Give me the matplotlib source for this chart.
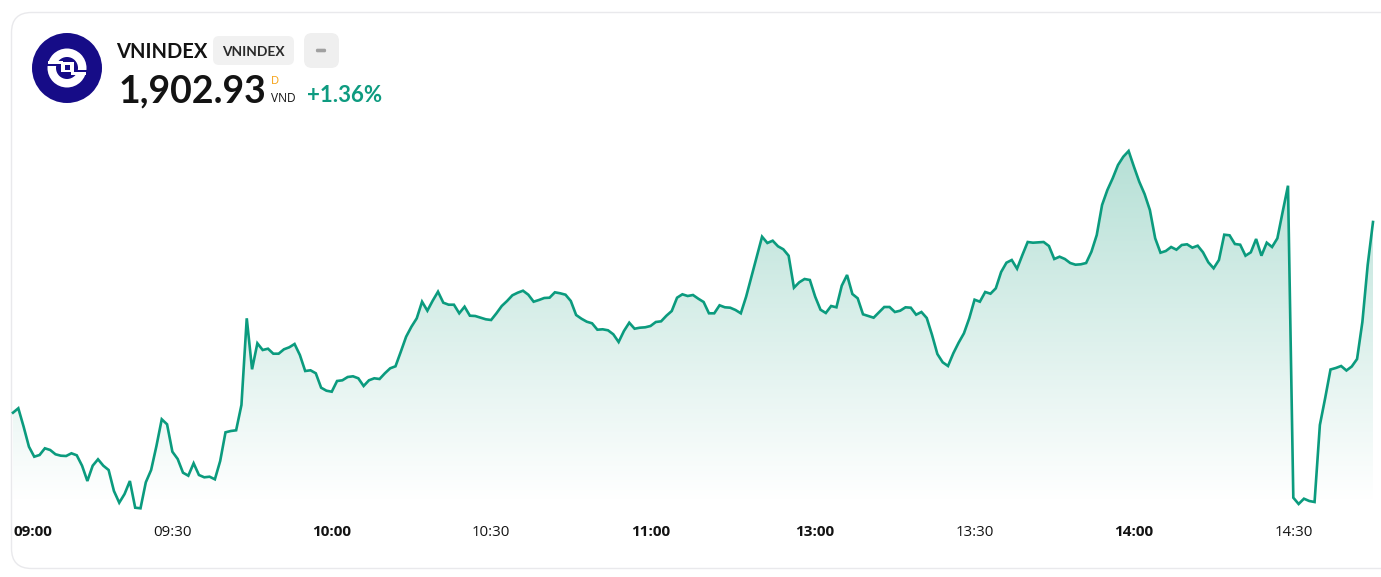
import numpy as np
import matplotlib
matplotlib.use("Agg")
import matplotlib.pyplot as plt
from matplotlib.patches import FancyBboxPatch, Circle, Rectangle, Polygon
from matplotlib.colors import LinearSegmentedColormap

W, H = 1381, 577

index_values = [
1883.86,1884.30,1882.46,1880.46,1879.46,1879.63,1880.30,1880.13,1879.70,1879.56,
1879.53,1879.80,1879.60,1878.56,1877.03,1878.56,1879.20,1878.56,1878.13,1876.03,
1874.86,1875.73,1877.03,1874.36,1874.30,1876.90,1878.13,1880.53,1883.20,1882.70,
1879.96,1879.23,1877.86,1877.56,1878.80,1877.63,1877.40,1877.46,1877.20,1879.03,
1881.90,1882.03,1882.10,1884.63,1893.30,1888.20,1890.80,1890.13,1890.26,1889.76,
1889.76,1890.20,1890.40,1890.73,1889.63,1888.03,1888.10,1887.80,1886.36,1886.06,
1885.96,1887.03,1887.10,1887.43,1887.50,1887.30,1886.53,1887.10,1887.30,1887.23,
1887.80,1888.30,1888.50,1889.96,1891.46,1892.46,1893.30,1894.96,1894.06,1895.06,
1895.96,1894.86,1894.66,1894.66,1893.80,1894.46,1893.56,1893.53,1893.36,1893.20,
1893.13,1893.80,1894.53,1895.03,1895.60,1895.86,1896.06,1895.66,1894.96,1895.13,
1895.33,1895.36,1895.90,1895.80,1895.66,1895.03,1893.63,1893.26,1892.96,1892.80,
1892.16,1892.20,1892.10,1891.70,1890.93,1892.03,1892.86,1892.26,1892.36,1892.40,
1892.53,1892.93,1893.00,1893.56,1894.03,1895.36,1895.70,1895.53,1895.63,1895.26,
1894.93,1893.80,1893.80,1894.60,1894.40,1894.36,1894.13,1893.80,1895.46,1897.46,
1899.46,1901.46,1900.83,1901.06,1900.50,1900.20,1899.56,1896.36,1896.90,1897.23,
1897.13,1895.46,1894.16,1893.83,1894.53,1894.40,1896.56,1897.63,1895.73,1895.30,
1893.70,1893.53,1893.36,1893.90,1894.43,1894.43,1893.93,1894.06,1894.40,1894.36,
1893.66,1893.93,1893.33,1891.63,1889.73,1888.90,1888.53,1889.80,1890.86,1891.80,
1893.30,1895.16,1894.96,1895.93,1895.76,1896.30,1897.93,1898.86,1899.13,1898.26,
1899.63,1900.93,1900.86,1900.90,1900.93,1900.53,1899.23,1899.46,1899.23,1898.83,
1898.66,1898.70,1898.83,1899.96,1901.63,1904.63,1906.13,1907.30,1908.63,1909.46,
1910.03,1908.46,1906.96,1905.73,1904.13,1901.30,1899.86,1900.03,1900.43,1900.16,
1900.63,1900.70,1900.36,1900.56,1899.90,1898.90,1898.30,1899.13,1901.66,1901.60,
1900.73,1900.66,1899.56,1899.90,1901.23,1899.56,1900.86,1900.43,1901.30,1903.96,
1906.56,1875.36,1874.73,1875.26,1875.03,1874.93,1882.63,1885.33,1888.18,1888.33,
1888.53,1888.08,1888.48,1889.23,1892.93,1898.63,1902.93,
]
tick_positions = [0, 30, 60, 90, 120, 151, 181, 211, 241]
tick_labels = ["09:00", "09:30", "10:00", "10:30", "11:00", "13:00", "13:30", "14:00", "14:30"]
bold_labels = {"09:00", "10:00", "11:00", "13:00", "14:00"}

name = "VNINDEX"
last_price = "1,902.93"
change = "+1.36%"
unit = "VND"
flag = "D"

GREEN = "#0b9b7e"
FILL_TOP = "#b6e0d6"
BASE_PX = 500
TOP_PX = 150
HEAD = "Lato"
TICK = "Open Sans"

def y_to_val(y):
    return 1925.13 - y / 10.0

fig = plt.figure(figsize=(W / 100, H / 100), dpi=100, facecolor="white")

deco = fig.add_axes([0, 0, 1, 1], zorder=0)
deco.set_xlim(0, W)
deco.set_ylim(H, 0)
deco.axis("off")
deco.add_patch(FancyBboxPatch((11.5 + 20, 12.5 + 20), 1420, 556 - 40,
                              boxstyle="round,pad=20,rounding_size=20",
                              fc="white", ec="#e9e9ec", lw=1.0))

plot_top, plot_bot = 120, 520
ax = fig.add_axes([13 / W, 1 - plot_bot / H, 1360 / W, (plot_bot - plot_top) / H], zorder=1)
ax.patch.set_alpha(0)
x = np.arange(len(index_values))
vals = np.array(index_values)
for s in ax.spines.values():
    s.set_visible(False)
ax.set_yticks([])

base = y_to_val(BASE_PX)
cmap = LinearSegmentedColormap.from_list("g", ["#ffffff", FILL_TOP])
grad = np.linspace(1, 0, 256).reshape(-1, 1)
im = ax.imshow(grad, extent=[0, 256, base, y_to_val(TOP_PX)], aspect="auto", cmap=cmap,
               vmin=0, vmax=1, zorder=1, interpolation="bilinear")
ax.set_xlim(0, 256)
ax.set_ylim(y_to_val(plot_bot), y_to_val(plot_top))
clip_poly = Polygon(np.vstack([[x[0], base], np.column_stack([x, vals]), [x[-1], base]]),
                    closed=True, transform=ax.transData, fc="none", ec="none")
ax.add_patch(clip_poly)
im.set_clip_path(clip_poly)
ax.plot(x, vals, color=GREEN, lw=1.9, zorder=2, solid_joinstyle="miter", clip_on=False)

ax.set_xticks(tick_positions)
ax.set_xticklabels(tick_labels)
ax.tick_params(axis="x", length=0, pad=3.5)
for lab, t in zip(ax.get_xticklabels(), tick_labels):
    lab.set_color("#131313")
    lab.set_fontfamily(TICK)
    if t in bold_labels:
        lab.set_fontsize(11)
        lab.set_fontweight("bold")
    else:
        lab.set_fontsize(10.8)
    if t == tick_labels[0]:
        lab.set_ha("left")

# Logo
navy = "#160c87"
deco.add_patch(Circle((67, 68), 35, fc=navy, ec="none"))
deco.add_patch(Circle((67, 68), 19.5, fc="white", ec="none"))
deco.add_patch(Circle((67, 68), 11, fc=navy, ec="none"))
deco.add_patch(Rectangle((47, 64.3), 15, 2.2, fc=navy, ec="none"))
deco.add_patch(Rectangle((73, 69.5), 15, 2.2, fc=navy, ec="none"))
deco.add_patch(Rectangle((48, 60.7), 15, 3.6, fc="white", ec="none"))
deco.add_patch(Rectangle((71, 71.7), 15.5, 3.4, fc="white", ec="none"))
deco.add_patch(Rectangle((61.3, 62.3), 12.4, 10, fc="white", ec="none"))
deco.add_patch(Rectangle((65.3, 64.5), 5, 5.6, fc=navy, ec="none"))

# Pills
deco.add_patch(FancyBboxPatch((219, 42), 69, 17, boxstyle="round,pad=6,rounding_size=6",
                              fc="#f1f1f1", ec="none"))
deco.add_patch(FancyBboxPatch((310, 39), 23, 23, boxstyle="round,pad=6,rounding_size=8",
                              fc="#efefef", ec="none"))
deco.add_patch(FancyBboxPatch((316.5, 49.3), 9, 2.4, boxstyle="round,pad=0.6,rounding_size=1.5",
                              fc="#a0a0a0", ec="none"))

# Header text
deco.text(116.5, 52, name, fontfamily=HEAD, fontweight="bold", fontsize=14.5,
          color="#131313", va="center", ha="left")
deco.text(253.5, 51.5, name, fontfamily=HEAD, fontweight="bold", fontsize=9.9,
          color="#2a2a2a", va="center", ha="center")
deco.text(119, 91, last_price, fontfamily=HEAD, fontweight="bold", fontsize=27,
          color="#131313", va="center", ha="left")
deco.text(271, 81, flag, fontfamily=TICK, fontsize=8, color="#f59e0b", va="center", ha="left")
deco.text(271, 98, unit, fontfamily=TICK, fontsize=8.6, color="#131313", va="center", ha="left")
deco.text(307, 95.5, change, fontfamily=HEAD, fontweight="bold", fontsize=16,
          color="#0e9b80", va="center", ha="left")

fig.savefig("out.png", dpi=100, facecolor="white")
